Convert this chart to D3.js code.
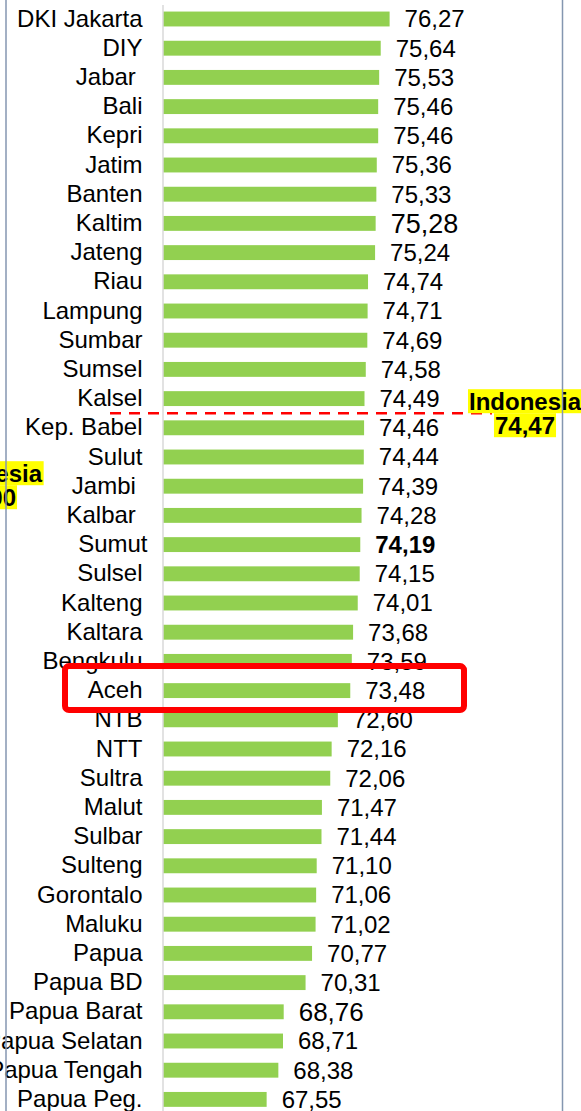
<!DOCTYPE html>
<html>
<head>
<meta charset="utf-8">
<script src="https://cdn.jsdelivr.net/npm/d3@7"></script>
<style>
  body { margin: 0; background: #fff; }
  svg { display: block; font-family: Arial, "Liberation Sans", sans-serif; }
</style>
</head>
<body>
<svg id="chart" width="581" height="1111"></svg>
<script>
// IPM per provinsi, urut dari tertinggi
const provinces = [
  "DKI Jakarta", "DIY", "Jabar ", "Bali", "Kepri", "Jatim", "Banten", "Kaltim",
  "Jateng", "Riau", "Lampung", "Sumbar", "Sumsel", "Kalsel", "Kep. Babel", "Sulut",
  "Jambi ", "Kalbar ", "Sumut", "Sulsel", "Kalteng", "Kaltara", "Bengkulu", "Aceh",
  "NTB", "NTT", "Sultra", "Malut", "Sulbar", "Sulteng", "Gorontalo", "Maluku",
  "Papua", "Papua BD", "Papua Barat", "Papua Selatan", "Papua Tengah", "Papua Peg."
];
const ipm = [
  76.27, 75.64, 75.53, 75.46, 75.46, 75.36, 75.33, 75.28,
  75.24, 74.74, 74.71, 74.69, 74.58, 74.49, 74.46, 74.44,
  74.39, 74.28, 74.19, 74.15, 74.01, 73.68, 73.59, 73.48,
  72.60, 72.16, 72.06, 71.47, 71.44, 71.10, 71.06, 71.02,
  70.77, 70.31, 68.76, 68.71, 68.38, 67.55
];
const nationalText = ["Indonesia", "74,47"];
const oldNationalText = ["Indonesia", "74,00"];
const nationalAfter = "Kalsel";   // garis rata-rata jatuh di bawah baris ini
const highlighted = "Aceh";

const data = provinces.map((p, i) => ({ name: p, value: ipm[i] }));

// gaya label angka yang berbeda
const labelSize = { "Kaltim": 27, "Papua Barat": 26 };
const labelBold = { "Sumut": true };

var svg = d3.select("#chart"),
  width = +svg.attr("width"),
  height = +svg.attr("height");

var x = d3.scaleLinear().domain([60.2, 80]).range([163, 442.2]),
  y = d3
    .scaleBand()
    .domain(provinces)
    .range([4.4, 1114])
    .paddingInner(0.49)
    .paddingOuter(0.245);

var fmt = d3.formatLocale({ decimal: ",", thousands: ".", grouping: [3], currency: ["", ""] }).format(".2f");

// batang
svg
  .append("g")
  .selectAll("rect")
  .data(data)
  .enter()
  .append("rect")
  .attr("x", x(60.2))
  .attr("y", d => y(d.name))
  .attr("width", d => x(d.value) - x(60.2))
  .attr("height", y.bandwidth())
  .attr("fill", "#92d050");

// sumbu kategori
var axis = svg
  .append("g")
  .attr("transform", `translate(162.5,0)`)
  .call(d3.axisLeft(y).tickSize(0).tickSizeOuter(0).tickPadding(20))
  .attr("font-size", 24)
  .attr("font-family", null);

axis.select(".domain").attr("stroke", "#d9d9d9").attr("stroke-width", 1.5);
axis
  .selectAll("text")
  .attr("fill", "#000")
  .attr("xml:space", "preserve")
  .style("white-space", "pre")
  .attr("dx", d => (d === "Sumut" ? 5 : 0));

// label nilai
svg
  .append("g")
  .selectAll("text")
  .data(data)
  .enter()
  .append("text")
  .attr("x", d => x(d.value) + 15)
  .attr("y", d => y(d.name) + y.bandwidth() / 2)
  .attr("dy", "0.35em")
  .attr("font-size", d => labelSize[d.name] || 24)
  .attr("font-weight", d => (labelBold[d.name] ? "bold" : null))
  .text(d => fmt(d.value));

// garis rata-rata nasional
var yCut = y(nationalAfter) + y.bandwidth() / 2 + y.step() / 2;
svg
  .append("line")
  .attr("x1", 110)
  .attr("x2", 492)
  .attr("y1", yCut)
  .attr("y2", yCut)
  .attr("stroke", "#ff0000")
  .attr("stroke-width", 2.5)
  .attr("stroke-dasharray", "11,8");

function callout(cx, cy, lines) {
  var g = svg.append("g");
  lines.forEach((t, i) => {
    var txt = g
      .append("text")
      .attr("x", cx)
      .attr("y", cy + i * 24)
      .attr("dy", "0.35em")
      .attr("text-anchor", "middle")
      .attr("font-size", 24)
      .attr("font-weight", "bold")
      .text(t);
    var b = txt.node().getBBox();
    g
      .insert("rect", "text")
      .attr("x", b.x - 1)
      .attr("y", cy + i * 24 - 12)
      .attr("width", b.width + 2)
      .attr("height", 24)
      .attr("fill", "#ffff00");
  });
}
callout(525, yCut - 12, nationalText);
callout(-14, yCut + 60, oldNationalText);

// bingkai
[6, 562.5].forEach(bx => {
  svg
    .append("line")
    .attr("x1", bx)
    .attr("x2", bx)
    .attr("y1", 0)
    .attr("y2", height)
    .attr("stroke", "#8496b0")
    .attr("stroke-width", 1.5);
});

// kotak sorotan
var yh = y(highlighted) + y.bandwidth() / 2;
svg
  .append("rect")
  .attr("x", 65)
  .attr("y", yh - 24.5)
  .attr("width", 399)
  .attr("height", 44)
  .attr("rx", 4)
  .attr("fill", "none")
  .attr("stroke", "#ff0000")
  .attr("stroke-width", 6);
</script>
</body>
</html>
